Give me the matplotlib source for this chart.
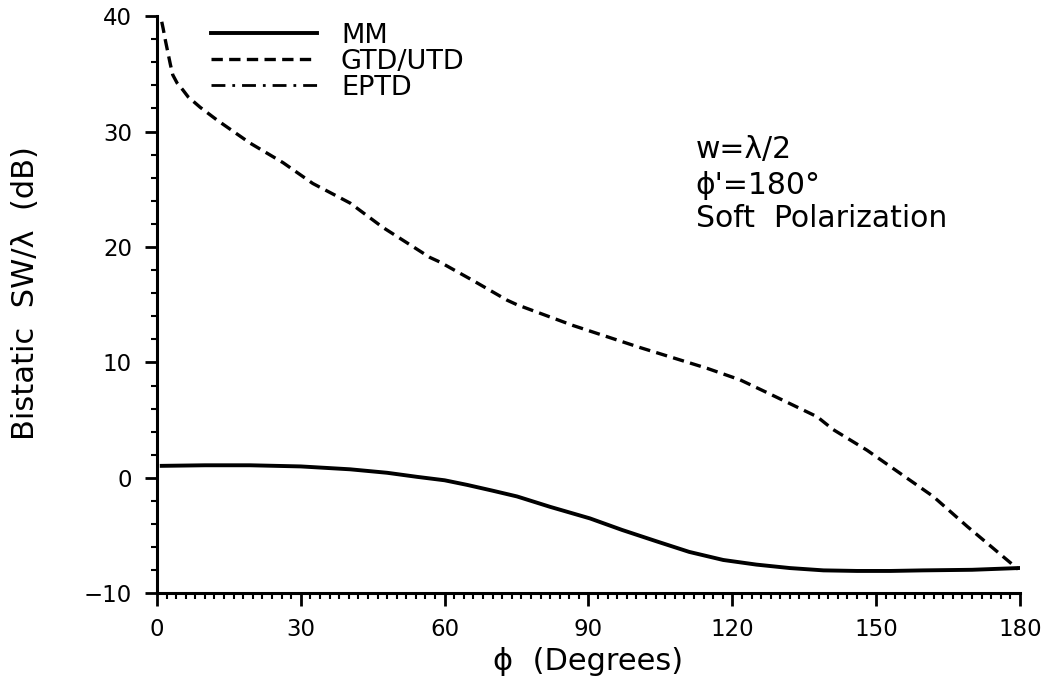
import matplotlib
matplotlib.use("Agg")
import matplotlib.pyplot as plt
from matplotlib.ticker import MultipleLocator

# GTD/UTD curve (dashed)
gtdAngle = [1.0, 1.3, 1.8, 2.3, 2.8, 3.3, 4.2, 5.4, 6.5, 9.0, 12.5, 19.4, 26.3, 32.5, 40.3,
            47.1, 56.9, 59.0, 65.9, 73.0, 75.1, 86.8, 100.7, 114.7, 121.6, 127.2, 137.7,
            141.0, 148.1, 155.0, 161.9, 169.0, 179.6]
gtdLevel = [39.5, 38.9, 37.8, 36.8, 35.8, 34.9, 34.2, 33.6, 33.0, 32.1, 31.0, 29.0, 27.3, 25.5, 23.8,
            21.7, 19.1, 18.7, 17.1, 15.4, 15.0, 13.2, 11.3, 9.5, 8.5, 7.4, 5.3,
            4.2, 2.4, 0.4, -1.6, -4.2, -7.9]

# MM curve (solid)
mmAngle = [1.0, 10.0, 19.4, 30.0, 40.3, 48.0, 54.2, 60.0, 64.7, 70.0, 75.1, 82.0, 90.3,
           97.0, 104.3, 111.0, 118.1, 125.0, 132.0, 139.0, 146.0, 153.0, 159.8, 170.0, 179.6]
mmLevel = [1.05, 1.1, 1.1, 1.0, 0.75, 0.45, 0.1, -0.2, -0.6, -1.1, -1.6, -2.5, -3.5,
           -4.5, -5.5, -6.4, -7.1, -7.5, -7.8, -8.0, -8.05, -8.05, -8.0, -7.95, -7.8]

# EPTD: only shown in the legend
eptdAngle = []
eptdLevel = []

xTicks = [0, 30, 60, 90, 120, 150, 180]
yTicks = [-10, 0, 10, 20, 30, 40]

plt.rcParams['font.family'] = ['DejaVu Sans']

fig = plt.figure(figsize=(10.52, 6.90), dpi=100)
ax = fig.add_axes([0.1492, 0.1399, 0.8204, 0.8369])

ax.plot(mmAngle, mmLevel, color="black", lw=2.8, label="MM")
ax.plot(gtdAngle, gtdLevel, color="black", lw=2.4, linestyle=(0, (3.4, 1.9)), label="GTD/UTD")
ax.plot(eptdAngle, eptdLevel, color="black", lw=2.0, linestyle=(0, (5, 2.5, 1, 2.5)), label="EPTD")

ax.set_xlim(0, 180)
ax.set_ylim(-10, 40)
ax.set_xticks(xTicks)
ax.set_yticks(yTicks)
ax.xaxis.set_minor_locator(MultipleLocator(2))
ax.yaxis.set_minor_locator(MultipleLocator(2))

for side in ["top", "right"]:
    ax.spines[side].set_visible(False)
for side in ["left", "bottom"]:
    ax.spines[side].set_linewidth(2.2)

ax.tick_params(which="major", direction="out", length=9, width=2.0, labelsize=16.5, pad=9)
ax.tick_params(which="minor", direction="out", length=4, width=1.5)

ax.set_xlabel("\u03d5  (Degrees)", fontsize=22, labelpad=4)
ax.set_ylabel("Bistatic  SW/\u03bb  (dB)", fontsize=22)
ax.yaxis.set_label_coords(-0.1356, 0.52)

ax.text(0.624, 0.768, "w=\u03bb/2", transform=ax.transAxes, fontsize=21.5, va="center")
ax.text(0.624, 0.707, "\u03d5'=180\u00b0", transform=ax.transAxes, fontsize=21.5, va="center")
ax.text(0.624, 0.650, "Soft  Polarization", transform=ax.transAxes, fontsize=21.5, va="center")

ax.legend(loc="upper left", bbox_to_anchor=(0.05, 1.007), frameon=False, fontsize=19.5,
          handlelength=3.9, handletextpad=0.9, labelspacing=0.0, borderaxespad=0)

fig.savefig("out.png", dpi=100)
